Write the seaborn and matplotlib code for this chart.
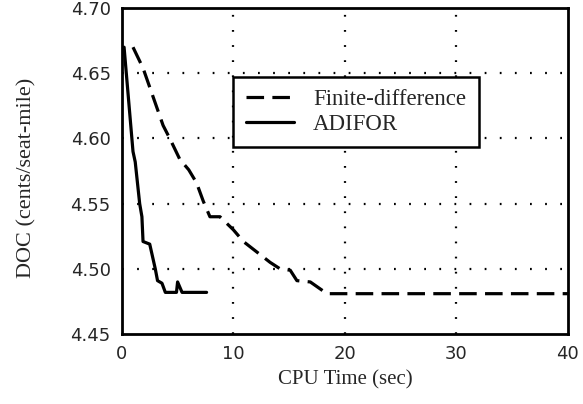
import numpy as np
import pandas as pd
import matplotlib
matplotlib.use("Agg")
import matplotlib.pyplot as plt
import seaborn as sns

# --- dati ---
fd_time = [1.0, 1.9, 2.8, 3.7, 4.3, 5.2, 6.0, 6.7, 7.3, 7.9, 8.8, 10.0, 10.9,
           12.1, 13.3, 14.2, 15.1, 15.7, 16.9, 18.4, 40.0]
fd_doc = [4.670, 4.654, 4.632, 4.610, 4.600, 4.584, 4.576, 4.566, 4.552, 4.540,
          4.540, 4.530, 4.521, 4.513, 4.505, 4.500, 4.499, 4.491, 4.490, 4.481, 4.481]

ad_time = [0.2, 0.4, 1.0, 1.2, 1.6, 1.8, 1.9, 2.5, 3.0, 3.2, 3.6, 3.9, 4.9, 5.0, 5.4, 7.6]
ad_doc = [4.670, 4.650, 4.590, 4.582, 4.550, 4.540, 4.521, 4.519, 4.500, 4.491,
          4.489, 4.482, 4.482, 4.490, 4.482, 4.482]

x_ticks = [0, 10, 20, 30, 40]
y_ticks = [4.45, 4.50, 4.55, 4.60, 4.65, 4.70]

df_fd = pd.DataFrame({"t": fd_time, "doc": fd_doc})
df_ad = pd.DataFrame({"t": ad_time, "doc": ad_doc})

sns.set_style("white")

fig = plt.figure(figsize=(5.83, 4.04), dpi=100)
ax = fig.add_axes([0.209, 0.173, 0.765, 0.807])

# griglia punteggiata (solo linee interne)
for xv in x_ticks[1:-1]:
    ax.axvline(xv, color="black", lw=1.6, ls=(0, (0.8, 6)), zorder=1)
for yv in y_ticks[1:-1]:
    ax.axhline(yv, color="black", lw=1.6, ls=(0, (0.8, 6)), zorder=1)

sns.lineplot(data=df_fd, x="t", y="doc", ax=ax, color="black", lw=2.3,
             label="Finite-difference", sort=False, zorder=3)
ax.lines[-1].set_dashes((5.5, 2.6))
sns.lineplot(data=df_ad, x="t", y="doc", ax=ax, color="black", lw=2.3,
             label="ADIFOR", sort=False, zorder=3)

ax.set_xlim(0, 40)
ax.set_ylim(4.45, 4.70)
ax.set_xticks(x_ticks)
ax.set_yticks(y_ticks)
ax.set_xticklabels([str(v) for v in x_ticks], fontsize=13, family="DejaVu Sans")
ax.set_yticklabels([f"{v:.2f}" for v in y_ticks], fontsize=13, family="DejaVu Sans")
ax.tick_params(length=0, pad=8)

ax.set_xlabel("CPU Time (sec)", fontsize=15, family="Liberation Serif", labelpad=5)
ax.set_ylabel("DOC (cents/seat-mile)", fontsize=16, family="Liberation Serif")
ax.yaxis.set_label_coords(-0.192, 0.48)

for s in ax.spines.values():
    s.set_visible(True)
    s.set_color("black")
    s.set_linewidth(2)

leg = ax.legend(loc="upper left", bbox_to_anchor=(0.249, 0.79), borderaxespad=0,
                frameon=True, fancybox=False, framealpha=1, edgecolor="black",
                handlelength=2.1, prop={"family": "Liberation Serif", "size": 16.5},
                borderpad=0.55, labelspacing=0.15, handletextpad=0.85)
leg.get_frame().set_linewidth(1.8)
leg.set_zorder(5)

fig.savefig("out.png", dpi=100)
